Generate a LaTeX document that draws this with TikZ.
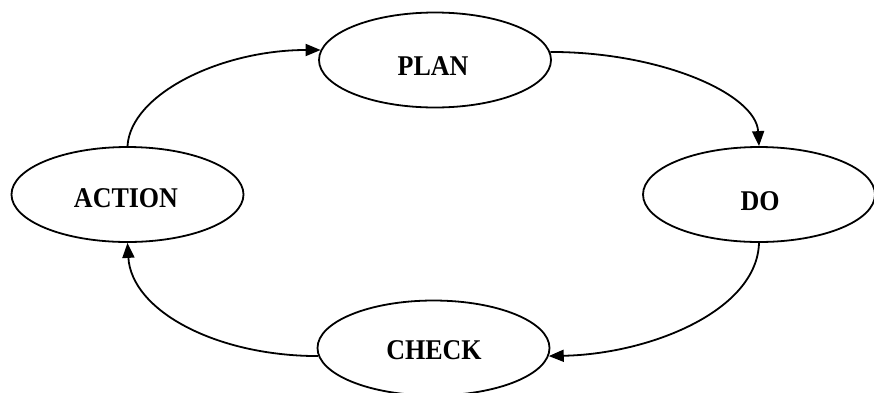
\documentclass[tikz,border=0pt]{standalone}
\usepackage{fontspec}
\setmainfont{Liberation Serif}
\usetikzlibrary{arrows.meta,shapes.geometric}
\newcommand{\tallword}[1]{\scalebox{1}[1.1]{#1}}
\begin{document}
\begin{tikzpicture}[x=1pt,y=-1pt,
  stage/.style={draw=black, line width=1.8pt, ellipse, minimum width=232pt, minimum height=95pt, inner sep=0pt},
  lbl/.style={font=\fontsize{26}{28}\selectfont\bfseries, inner sep=0pt},
  arr/.style={draw=black, line width=1.8pt, -{Triangle[length=15pt,width=12pt]}}]
\useasboundingbox (0,0) rectangle (874,392);
\node[stage] (plan)   at (435,60)    {};
\node[stage] (action) at (127.5,194.5) {};
\node[stage] (do)     at (759,194.5) {};
\node[stage] (check)  at (433.5,348) {};
\node[lbl] (planT)   at (433,66)  {\tallword{PLAN}};
\node[lbl] (actionT) at (126,198) {\tallword{ACTION}};
\node[lbl] (doT)     at (760,201) {\tallword{DO}};
\node[lbl] (checkT)  at (434,350.5) {\tallword{CHECK}};
\draw[arr] (plan.4.5) .. controls +(111,0) and +(-3,-52) .. (do.north);
\draw[arr] (do.south) .. controls +(-2,68) and +(101,-2) .. (check.-4.5);
\draw[arr] (check.184.5) .. controls +(-102,0) and +(4,68) .. (action.south);
\draw[arr] (action.north) .. controls +(3,-52) and +(-100,0) .. (plan.175.5);
\end{tikzpicture}
\end{document}
